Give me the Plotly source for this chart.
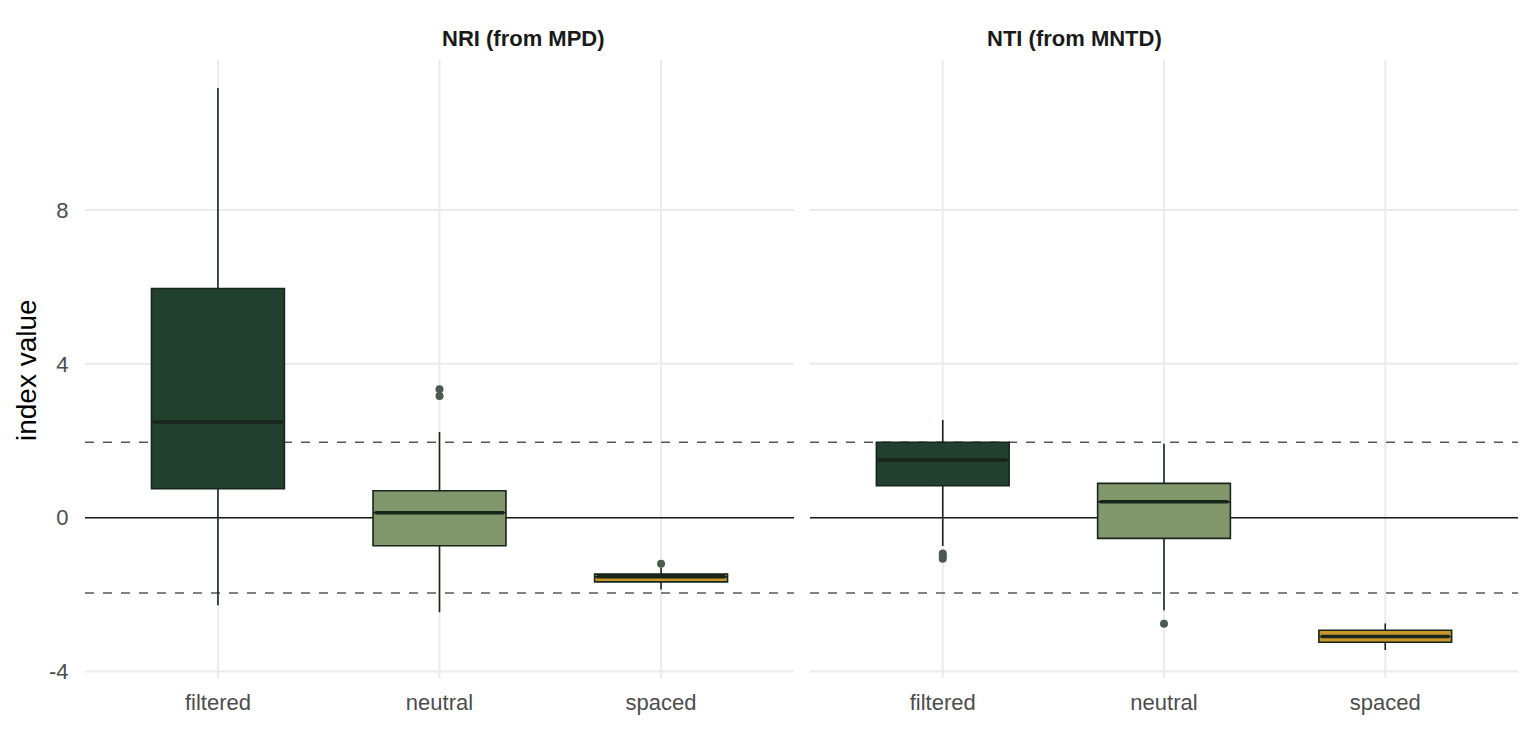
import plotly.graph_objects as go
from plotly.subplots import make_subplots

categories = ["filtered", "neutral", "spaced"]
panels = ["NRI (from MPD)", "NTI (from MNTD)"]
fill_colors = ["#21402D", "#82986C", "#C8962A"]

# per panel: [filtered, neutral, spaced]
nri_lower = [-2.28, -2.46, -1.87]
nri_q1 = [0.75, -0.73, -1.67]
nri_median = [2.49, 0.13, -1.54]
nri_q3 = [5.96, 0.70, -1.47]
nri_upper = [11.17, 2.23, -1.30]
nri_outliers = [[], [3.34, 3.16], [-1.20]]

nti_lower = [-0.74, -2.41, -3.44]
nti_q1 = [0.83, -0.54, -3.24]
nti_median = [1.50, 0.41, -3.09]
nti_q3 = [1.96, 0.89, -2.93]
nti_upper = [2.54, 1.92, -2.75]
nti_outliers = [[-0.93, -1.0, -1.07], [-2.76], []]

ref_lines = [0, 1.96, -1.96]
y_ticks = [-4, 0, 4, 8]
y_tick_text = ["-4", "0", "4", "8"]

data = [
    (nri_lower, nri_q1, nri_median, nri_q3, nri_upper, nri_outliers),
    (nti_lower, nti_q1, nti_median, nti_q3, nti_upper, nti_outliers),
]

fig = make_subplots(rows=1, cols=2, shared_yaxes=True, horizontal_spacing=0.01)

edge = "#17251B"
box_w = 0.6
x_range = [-0.6, 2.6]
y_range = [-4.17, 11.9]
grid_col = "#EBEBEB"
for p, (lo, q1, med, q3, up, outs) in enumerate(data):
    col = p + 1
    xr = "x" if p == 0 else "x2"
    yr = "y" if p == 0 else "y2"
    # gridlines as shapes beneath everything
    for t in y_ticks:
        fig.add_shape(type="line", xref=xr, yref=yr, x0=x_range[0], x1=x_range[1],
                      y0=t, y1=t, line=dict(color=grid_col, width=2), layer="below")
    for i in range(len(categories)):
        fig.add_shape(type="line", xref=xr, yref=yr, x0=i, x1=i,
                      y0=y_range[0], y1=y_range[1], line=dict(color=grid_col, width=2),
                      layer="below")
    # reference lines
    for v in ref_lines:
        if v == 0:
            line = dict(color="#1A1A1A", width=1.5)
        else:
            line = dict(color="#555A57", width=1.5, dash="dash")
        fig.add_shape(type="line", xref=xr, yref=yr, x0=x_range[0], x1=x_range[1],
                      y0=v, y1=v, line=line, layer="below")
    for i, cat in enumerate(categories):
        fig.add_trace(go.Box(
            x=[i], q1=[q1[i]], median=[med[i]], q3=[q3[i]],
            lowerfence=[lo[i]], upperfence=[up[i]],
            width=box_w, fillcolor=fill_colors[i],
            line=dict(color=edge, width=1.6), whiskerwidth=0,
            boxpoints=False, showlegend=False, hoverinfo="skip",
        ), row=1, col=col)
        # thicker median line like ggplot
        fig.add_trace(go.Scatter(
            x=[i - box_w / 2 + 0.01, i + box_w / 2 - 0.01], y=[med[i], med[i]],
            mode="lines", line=dict(color=edge, width=3.5),
            showlegend=False, hoverinfo="skip",
        ), row=1, col=col)
        if outs[i]:
            fig.add_trace(go.Scatter(
                x=[i] * len(outs[i]), y=outs[i], mode="markers",
                marker=dict(color="#4A5A4F", size=8),
                showlegend=False, hoverinfo="skip",
            ), row=1, col=col)

W, H = 1536, 729
x1d = [85 / W, 794 / W]
x2d = [810 / W, 1518 / W]
yd = [1 - 678 / H, 1 - 60 / H]

font_family = "Liberation Sans, Arial, sans-serif"
xcommon = dict(range=x_range, tickvals=[0, 1, 2], ticktext=categories,
               showgrid=False, zeroline=False, automargin=False,
               showline=False, ticks="outside", ticklen=5, tickcolor="rgba(0,0,0,0)",
               tickfont=dict(size=22, color="#4D4D4D", family=font_family))
fig.update_layout(
    width=W, height=H, margin=dict(l=0, r=0, t=0, b=0),
    plot_bgcolor="white", paper_bgcolor="white",
    boxmode="overlay",
    xaxis=dict(domain=x1d, **xcommon),
    xaxis2=dict(domain=x2d, **xcommon),
    yaxis=dict(domain=yd, range=y_range, tickvals=y_ticks, ticktext=y_tick_text,
               showgrid=False, zeroline=False, automargin=False,
               ticks="outside", ticklen=11, tickcolor="rgba(0,0,0,0)",
               tickfont=dict(size=22, color="#4D4D4D", family=font_family)),
    yaxis2=dict(domain=yd, range=y_range, tickvals=y_ticks, matches="y",
                showgrid=False, zeroline=False, automargin=False,
                showticklabels=False),
    annotations=[
        dict(text="<b>" + panels[0] + "</b>", x=(x1d[0] + x1d[1]) / 2, y=1 - 38 / H,
             xref="paper", yref="paper", showarrow=False, yanchor="middle",
             font=dict(size=22, color="#1A1A1A", family=font_family)),
        dict(text="<b>" + panels[1] + "</b>", x=(x2d[0] + x2d[1]) / 2, y=1 - 38 / H,
             xref="paper", yref="paper", showarrow=False, yanchor="middle",
             font=dict(size=22, color="#1A1A1A", family=font_family)),
        dict(text="index value", x=26 / W, y=1 - 370 / H, textangle=-90,
             xref="paper", yref="paper", showarrow=False,
             xanchor="center", yanchor="middle",
             font=dict(size=28, color="#000000", family=font_family)),
    ],
)

fig.write_html("out.html")
